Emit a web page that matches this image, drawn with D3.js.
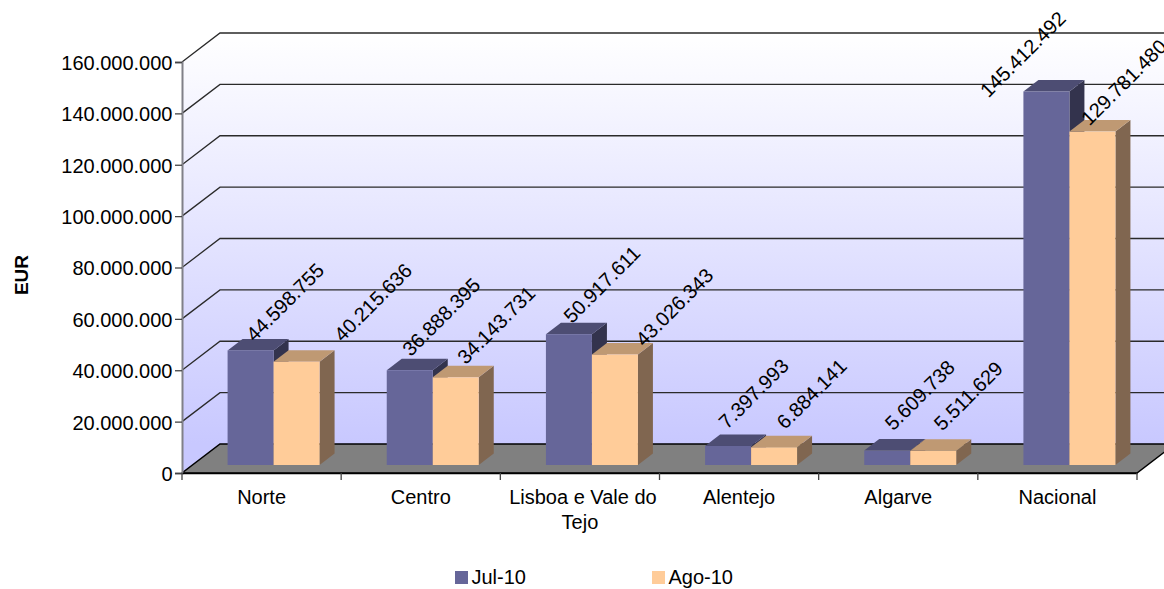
<!DOCTYPE html>
<html lang="pt">
<head>
    <meta charset="UTF-8">
    <title>EUR por região</title>
    <script src="https://d3js.org/d3.v7.min.js"></script>
    <style>
        html, body { margin: 0; background: white; overflow: hidden; }
        svg { display: block; }
        text { font-family: "Liberation Sans", Arial, sans-serif; font-size: 20px; fill: #000; }
        .grid { stroke: #2a2a2a; stroke-width: 1.3; fill: none; }
    </style>
</head>
<body>
    <svg id="chart" width="1164" height="589"></svg>

    <script>
        const categories = ["Norte", "Centro", "Lisboa e Vale do Tejo", "Alentejo", "Algarve", "Nacional"];
        const seriesNames = ["Jul-10", "Ago-10"];
        const jul10 = [44598755, 36888395, 50917611, 7397993, 5609738, 145412492];
        const ago10 = [40215636, 34143731, 43026343, 6884141, 5511629, 129781480];
        const yTicks = [0, 20000000, 40000000, 60000000, 80000000, 100000000, 120000000, 140000000, 160000000];

        // label nudges from the top left of each bar front, the original places them by hand
        const julNudge = [[27, -8], [24, -13], [26, -10], [22, -16], [29, -19], [-35, 7]];
        const agoNudge = [[69, -19], [33, -12], [52, -7], [34, -17], [32, -19], [20, -5]];

        const colors = {
            "Jul-10": {front: "#666699", top: "#4d4d73", side: "#33334d"},
            "Ago-10": {front: "#ffcc99", top: "#bf9973", side: "#806650"}
        };

        const plotLeft = 182, plotRight = 1137, plotBottom = 473, plotTop = 62;
        const wallDx = 38, wallDy = -29;    // depth of the floor
        const barDx = 15, barDy = -11.5;    // depth of a bar
        const barShiftX = 12, barShiftY = -8;

        const svg = d3.select("#chart");

        const x = d3.scaleBand().domain(categories).range([plotLeft, plotRight]);
        const y = d3.scaleLinear().domain([0, 160000000]).range([plotBottom, plotTop]);
        const xSeries = d3.scaleBand().domain(seriesNames).range([0, x.bandwidth()]).paddingInner(0).paddingOuter(0.73);

        const grad = svg.append("defs").append("linearGradient")
            .attr("id", "wall")
            .attr("gradientUnits", "userSpaceOnUse")
            .attr("x1", 0).attr("x2", 0)
            .attr("y1", y(160000000) + wallDy).attr("y2", y(0) + wallDy);
        grad.append("stop").attr("offset", 0).attr("stop-color", "#ffffff");
        grad.append("stop").attr("offset", 1).attr("stop-color", "#c8c8ff");

        const pts = a => a.map(p => p.join(",")).join(" ");

        // back wall, side wall
        svg.append("polygon").attr("fill", "url(#wall)")
            .attr("points", pts([
                [plotLeft + wallDx, y(160000000) + wallDy], [plotRight + wallDx, y(160000000) + wallDy],
                [plotRight + wallDx, y(0) + wallDy], [plotLeft + wallDx, y(0) + wallDy]
            ]));
        svg.append("polygon").attr("fill", "url(#wall)")
            .attr("points", pts([
                [plotLeft, y(160000000)], [plotLeft + wallDx, y(160000000) + wallDy],
                [plotLeft + wallDx, y(0) + wallDy], [plotLeft, y(0)]
            ]));

        // gridlines run along the side wall then along the back wall
        svg.append("g").selectAll("polyline")
            .data(yTicks.slice(1))
            .join("polyline")
            .attr("class", "grid")
            .attr("points", d => pts([[plotLeft, y(d)], [plotLeft + wallDx, y(d) + wallDy], [plotRight + wallDx, y(d) + wallDy]]));

        // floor
        svg.append("polygon")
            .attr("fill", "#808080")
            .attr("stroke", "#000")
            .attr("stroke-width", 1.5)
            .attr("points", pts([
                [plotLeft, y(0)], [plotRight, y(0)], [plotRight + wallDx, y(0) + wallDy], [plotLeft + wallDx, y(0) + wallDy]
            ]));

        // bars
        const rows = categories.flatMap((c, i) => [
            {cat: c, name: "Jul-10", value: jul10[i], nudge: julNudge[i]},
            {cat: c, name: "Ago-10", value: ago10[i], nudge: agoNudge[i]}
        ]);
        rows.forEach(d => {
            d.x0 = x(d.cat) + xSeries(d.name) + barShiftX;
            d.x1 = d.x0 + xSeries.bandwidth();
            d.y0 = y(0) + barShiftY;
            d.y1 = y(d.value) + barShiftY;
        });

        const bars = svg.append("g").selectAll("g").data(rows).join("g");
        bars.append("polygon")
            .attr("fill", d => colors[d.name].side)
            .attr("points", d => pts([
                [d.x1, d.y0], [d.x1 + barDx, d.y0 + barDy], [d.x1 + barDx, d.y1 + barDy], [d.x1, d.y1]
            ]));
        bars.append("polygon")
            .attr("fill", d => colors[d.name].top)
            .attr("points", d => pts([
                [d.x0, d.y1], [d.x1, d.y1], [d.x1 + barDx, d.y1 + barDy], [d.x0 + barDx, d.y1 + barDy]
            ]));
        bars.append("rect")
            .attr("fill", d => colors[d.name].front)
            .attr("x", d => d.x0)
            .attr("y", d => d.y1)
            .attr("width", d => d.x1 - d.x0)
            .attr("height", d => d.y0 - d.y1);

        // axes
        const fmt = d3.formatLocale({decimal: ",", thousands: ".", grouping: [3], currency: ["", ""]}).format(",d");

        const yAxis = svg.append("g")
            .attr("transform", `translate(${plotLeft},0)`)
            .call(d3.axisLeft(y).tickValues(yTicks).tickFormat(fmt).tickSize(7).tickPadding(2.5));
        yAxis.select(".domain").attr("stroke", "#808088").attr("stroke-width", 2);
        yAxis.selectAll(".tick line").attr("stroke", "#444").attr("stroke-width", 1.3);
        yAxis.selectAll("text")
            .attr("dy", "0.37em")
            .style("font-size", "20px").style("font-family", "'Liberation Sans'");

        const xAxis = svg.append("g")
            .attr("transform", `translate(0,${plotBottom})`)
            .call(d3.axisBottom(x).tickSize(0).tickPadding(17));
        xAxis.select(".domain").attr("stroke", "#000").attr("stroke-width", 1.5);
        xAxis.selectAll("text")
            .style("font-size", "20px").style("font-family", "'Liberation Sans'")
            .each(function(d) {
                if (d !== "Lisboa e Vale do Tejo") return;
                const t = d3.select(this).text(null);
                t.append("tspan").attr("x", 3).attr("dy", "0.71em").text("Lisboa e Vale do");
                t.append("tspan").attr("x", 0).attr("dy", "25px").text("Tejo");
            });

        // category ticks sit on the band edges
        svg.append("g").selectAll("line")
            .data(categories.map(c => x(c)).concat(plotRight))
            .join("line")
            .attr("x1", d => d).attr("x2", d => d)
            .attr("y1", plotBottom).attr("y2", plotBottom + 7)
            .attr("stroke", "#444").attr("stroke-width", 1.3);

        // value labels
        svg.append("g").selectAll("text")
            .data(rows)
            .join("text")
            .attr("transform", d => `translate(${d.x0 + d.nudge[0]},${d.y1 + d.nudge[1]}) rotate(-45)`)
            .text(d => fmt(d.value));

        // y title
        svg.append("text")
            .attr("transform", "translate(27.5,275) rotate(-90)")
            .attr("text-anchor", "middle")
            .style("font-size", "19px")
            .style("font-weight", "bold")
            .text("EUR");

        // legend
        const legend = svg.append("g").selectAll("g")
            .data(seriesNames)
            .join("g")
            .attr("transform", (d, i) => `translate(${[455, 652][i]},571)`);
        legend.append("rect")
            .attr("width", 13).attr("height", 13)
            .attr("fill", d => colors[d].front);
        legend.append("text")
            .attr("x", 16.5).attr("y", 13)
            .text(d => d);
    </script>
</body>
</html>
